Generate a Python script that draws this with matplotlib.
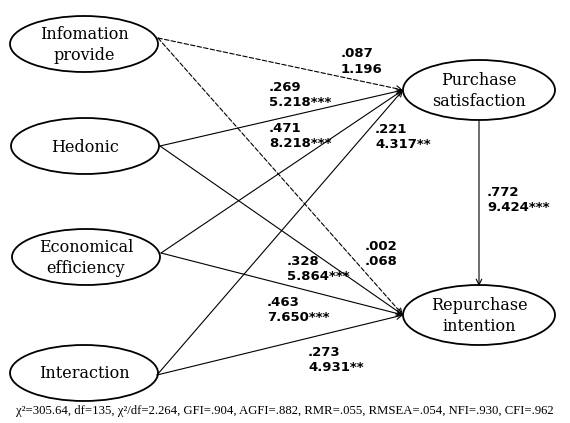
import matplotlib.pyplot as plt
from matplotlib.patches import Ellipse

# constructs
left_nodes = ['Infomation\nprovide', 'Hedonic', 'Economical\nefficiency', 'Interaction']
right_nodes = ['Purchase\nsatisfaction', 'Repurchase\nintention']

# paths: (source, target, coefficient, t-value, significant)
sources = ['Infomation\nprovide', 'Hedonic', 'Economical\nefficiency', 'Interaction',
           'Infomation\nprovide', 'Hedonic', 'Economical\nefficiency', 'Interaction',
           'Purchase\nsatisfaction']
targets = ['Purchase\nsatisfaction'] * 4 + ['Repurchase\nintention'] * 5
coefs = ['.087', '.269', '.471', '.221', '.002', '.328', '.463', '.273', '.772']
tvals = ['1.196', '5.218***', '8.218***', '4.317**', '.068', '5.864***', '7.650***', '4.931**', '9.424***']
significant = [False, True, True, True, False, True, True, True, True]

fit_text = ('χ²=305.64, df=135, χ²/df=2.264, GFI=.904, AGFI=.882, RMR=.055, '
            'RMSEA=.054, NFI=.930, CFI=.962')

# layout (pixel space)
centers = {
    'Infomation\nprovide': (84, 44),
    'Hedonic': (85, 146),
    'Economical\nefficiency': (86, 257),
    'Interaction': (84, 373),
    'Purchase\nsatisfaction': (479, 90),
    'Repurchase\nintention': (479, 315),
}
sizes = {n: (148, 56) for n in left_nodes}
sizes.update({n: (152, 60) for n in right_nodes})
starts = {
    'Infomation\nprovide': (158, 38),
    'Hedonic': (160, 146),
    'Economical\nefficiency': (161, 253),
    'Interaction': (157, 375),
    'Purchase\nsatisfaction': (479, 120),
}
ends = {'Purchase\nsatisfaction': (403, 90), 'Repurchase\nintention': (403, 315)}
label_pos = [(341, 61.5), (269, 95), (269, 136), (375, 137), (365, 254),
             (287, 269), (267, 310), (308, 360), (487, 200)]

fig = plt.figure(figsize=(5.7, 4.23), dpi=100)
ax = fig.add_axes([0, 0, 1, 1])
ax.set_xlim(0, 570)
ax.set_ylim(423, 0)
ax.axis('off')

for n, (cx, cy) in centers.items():
    w, h = sizes[n]
    ax.add_patch(Ellipse((cx, cy), w, h, fill=False, lw=1.3, ec='black'))
    ax.text(cx, cy + 1, n, ha='center', va='center', family='DejaVu Serif',
            fontsize=11.5, linespacing=1.3)

for i in range(len(sources)):
    s = starts[sources[i]]
    if sources[i] == 'Purchase\nsatisfaction':
        e = (479, 286)
    else:
        e = ends[targets[i]]
    ls = '-' if significant[i] else (0, (4, 2))
    ax.annotate('', xy=e, xytext=s,
                arrowprops=dict(arrowstyle='->', lw=0.8, color='black', linestyle=ls,
                                shrinkA=0, shrinkB=0, mutation_scale=10))
    lx, ly = label_pos[i]
    ax.text(lx, ly, coefs[i] + '\n' + tvals[i], ha='left', va='center',
            fontsize=9.5, fontweight='bold', linespacing=1.25)

ax.text(285, 411, fit_text, ha='center', va='center', family='Liberation Serif',
        fontsize=9.2)

fig.savefig('out.png', dpi=100)
